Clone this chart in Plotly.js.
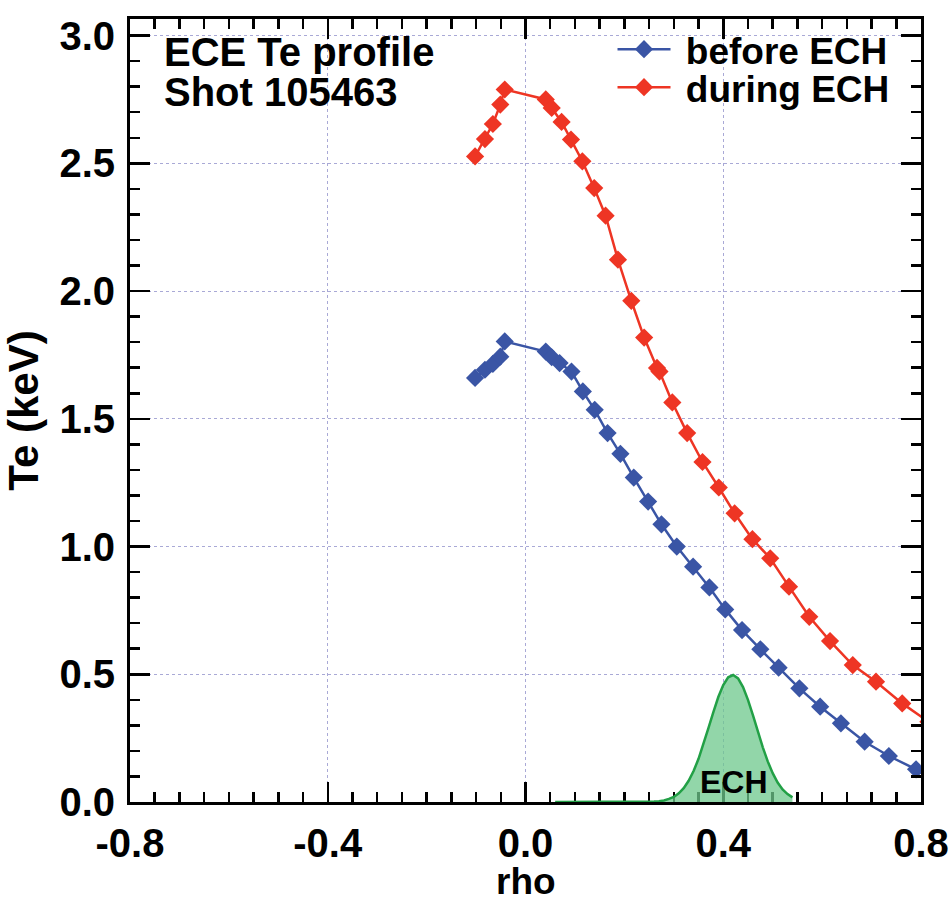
<!DOCTYPE html>
<html>
<head>
<meta charset="utf-8">
<script src="https://cdn.plot.ly/plotly-3.0.1.min.js"></script>
<style>html,body{margin:0;padding:0;background:#fff;}#chart{width:951px;height:901px;}</style>
</head>
<body>
<div id="chart"></div>
<script>
// ---- data ----
const beforeRho = [-0.102, -0.082, -0.066, -0.051, -0.042, 0.041, 0.053, 0.069, 0.093, 0.116, 0.140, 0.166, 0.192, 0.219, 0.248, 0.275, 0.306, 0.339, 0.372, 0.404, 0.438, 0.475, 0.512, 0.554, 0.596, 0.638, 0.686, 0.735, 0.790];
const beforeTe  = [1.660, 1.692, 1.715, 1.743, 1.803, 1.763, 1.741, 1.718, 1.685, 1.607, 1.535, 1.444, 1.363, 1.270, 1.176, 1.087, 1.000, 0.921, 0.840, 0.754, 0.673, 0.598, 0.526, 0.445, 0.373, 0.308, 0.236, 0.180, 0.128];

const duringRho = [-0.102, -0.082, -0.066, -0.051, -0.042, 0.041, 0.053, 0.073, 0.092, 0.115, 0.139, 0.162, 0.187, 0.214, 0.240, 0.266, 0.271, 0.297, 0.327, 0.358, 0.391, 0.423, 0.459, 0.495, 0.533, 0.574, 0.616, 0.662, 0.709, 0.762, 0.815];
const duringTe  = [2.527, 2.595, 2.654, 2.730, 2.789, 2.750, 2.717, 2.662, 2.593, 2.508, 2.403, 2.295, 2.123, 1.962, 1.818, 1.699, 1.685, 1.564, 1.444, 1.331, 1.231, 1.130, 1.029, 0.954, 0.843, 0.725, 0.630, 0.536, 0.471, 0.386, 0.314];

const echRho   = [0.06, 0.10, 0.14, 0.18, 0.22, 0.26, 0.27, 0.28, 0.29, 0.30, 0.31, 0.32, 0.33, 0.34, 0.35, 0.36, 0.37, 0.38, 0.39, 0.40, 0.41, 0.42, 0.43, 0.44, 0.45, 0.46, 0.47, 0.48, 0.49, 0.50, 0.51, 0.52, 0.53, 0.54];
const echLevel = [0, 0, 0, 0, 0, 0.002, 0.003, 0.006, 0.012, 0.020, 0.034, 0.054, 0.083, 0.121, 0.169, 0.226, 0.289, 0.352, 0.411, 0.458, 0.488, 0.497, 0.484, 0.450, 0.400, 0.340, 0.276, 0.214, 0.159, 0.113, 0.076, 0.049, 0.031, 0.018];

const xTickVals = [-0.8, -0.4, 0.0, 0.4, 0.8];
const xTickText = ['-0.8', '-0.4', '0.0', '0.4', '0.8'];
const yTickVals = [0.0, 0.5, 1.0, 1.5, 2.0, 2.5, 3.0];
const yTickText = ['0.0', '0.5', '1.0', '1.5', '2.0', '2.5', '3.0'];

const seriesNames = ['before ECH', 'during ECH'];
const titleLines = ['ECE Te profile', 'Shot 105463'];
const xTitle = 'rho';
const yTitle = 'Te (keV)';

// ---- styles ----
const FONT = 'Liberation Sans, Arial, Helvetica, sans-serif';
const BLUE = '#3a55a5';
const RED = '#ee3524';
const GRID = '#a9a9d6';

const traces = [
  {
    x: echRho, y: echLevel, type: 'scatter', mode: 'lines',
    line: {color: '#22a046', width: 2.5},
    fill: 'tozeroy', fillcolor: 'rgba(110,200,140,0.75)',
    showlegend: false, hoverinfo: 'skip'
  },
  {
    x: beforeRho, y: beforeTe, type: 'scatter', mode: 'lines+markers', name: '\u00a0' + seriesNames[0],
    line: {color: BLUE, width: 2.5},
    marker: {symbol: 'diamond', size: 14, color: BLUE},
    legend: 'legend'
  },
  {
    x: duringRho, y: duringTe, type: 'scatter', mode: 'lines+markers', name: '\u00a0' + seriesNames[1],
    line: {color: RED, width: 2.5},
    marker: {symbol: 'diamond', size: 14, color: RED},
    legend: 'legend2'
  }
];

const axisCommon = {
  showline: true, linecolor: 'black', linewidth: 3, mirror: 'allticks',
  ticks: 'inside', ticklen: 20, tickwidth: 2.5, tickcolor: 'black',
  showgrid: true, gridcolor: GRID, gridwidth: 1, griddash: 'dot',
  zeroline: false,
  tickfont: {family: FONT, size: 40, color: 'black', weight: 'bold'},
  tickmode: 'array'
};

const legendFont = {family: FONT, size: 37, color: 'black', weight: 'bold'};

const layout = {
  width: 951, height: 901,
  margin: {l: 130, r: 30, t: 19, b: 99},
  paper_bgcolor: 'white', plot_bgcolor: 'white',
  font: {family: FONT, color: 'black'},
  xaxis: Object.assign({}, axisCommon, {
    range: [-0.8, 0.8],
    tickvals: xTickVals, ticktext: xTickText,
    minor: {dtick: 0.05, tick0: -0.8, ticks: 'inside', ticklen: 10, tickwidth: 2.5, tickcolor: 'black', showgrid: false},
    ticklabelstandoff: 4,
    layer: 'below traces'
  }),
  yaxis: Object.assign({}, axisCommon, {
    range: [0, 3.065],
    tickvals: yTickVals, ticktext: yTickText,
    minor: {dtick: 0.1, tick0: 0, ticks: 'inside', ticklen: 10, tickwidth: 2.5, tickcolor: 'black', showgrid: false},
    ticklabelstandoff: 4,
    title: {text: yTitle, font: {family: FONT, size: 42, weight: 'bold'}, standoff: 8}
  }),
  legend: {
    x: 0.61, y: 0.9609, xanchor: 'left', yanchor: 'middle',
    bgcolor: 'rgba(0,0,0,0)', borderwidth: 0, itemwidth: 53,
    font: legendFont
  },
  legend2: {
    x: 0.61, y: 0.9123, xanchor: 'left', yanchor: 'middle',
    bgcolor: 'rgba(0,0,0,0)', borderwidth: 0, itemwidth: 53,
    font: legendFont
  },
  annotations: [
    {x: -0.735, y: 2.937, xref: 'x', yref: 'y', xanchor: 'left', yanchor: 'middle', showarrow: false,
     text: titleLines[0], font: {family: FONT, size: 40, color: 'black', weight: 'bold'}},
    {x: -0.735, y: 2.780, xref: 'x', yref: 'y', xanchor: 'left', yanchor: 'middle', showarrow: false,
     text: titleLines[1], font: {family: FONT, size: 40, color: 'black', weight: 'bold'}},
    {x: 0.421, y: 0.078, xref: 'x', yref: 'y', xanchor: 'center', yanchor: 'middle', showarrow: false,
     text: 'ECH', font: {family: FONT, size: 32, color: 'black', weight: 'bold'}},
    {x: 0.5, y: -0.101, xref: 'paper', yref: 'paper', xanchor: 'center', yanchor: 'middle', showarrow: false,
     text: xTitle, font: {family: FONT, size: 37, color: 'black', weight: 'bold'}}
  ],
  showlegend: true
};

Plotly.newPlot('chart', traces, layout, {displayModeBar: false, staticPlot: true});
</script>
</body>
</html>
